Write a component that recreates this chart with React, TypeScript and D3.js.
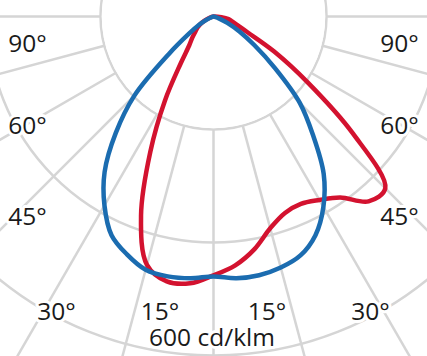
import React, { useRef, useEffect } from 'react';
import * as d3 from 'd3';

// angles in degrees from nadir (0 = straight down), 5° steps
const angles = [0, 5, 10, 15, 20, 25, 30, 35, 40, 45, 50, 55, 60, 65, 70, 75, 80, 85, 90];

// intensities in cd/klm, left half (towards 90° on the left) and right half
const blueLeft = [460, 465, 467, 464, 448, 427, 386, 336, 269, 198, 103, 53, 30, 14, 5, 0, 0, 0, 0];
const blueRight = [460, 465, 465, 460, 450, 427, 389, 340, 274, 216, 142, 88, 53, 27, 11, 4, 0, 0, 0];
const redLeft = [458, 474, 476, 455, 375, 265, 172, 101, 67, 53, 42, 35, 27, 18, 9, 4, 0, 0, 0];
const redRight = [458, 442, 418, 388, 370, 366, 375, 391, 427, 430, 322, 204, 124, 67, 45, 34, 27, 14, 0];

const gridValues = [200, 400, 600];
const spokeAngles = [-90, -75, -60, -45, -30, -15, 0, 15, 30, 45, 60, 75, 90];
const angleLabels = ['90°', '60°', '45°', '30°', '15°'];
const unitLabel = '600 cd/klm';

const WIDTH = 427;
const HEIGHT = 356;

function App() {
  const svgRef = useRef<SVGSVGElement | null>(null);

  useEffect(() => {
    const svg = d3.select(svgRef.current);
    svg.selectAll('*').remove();

    const cx = 213.5;
    const cy = 16.5;
    const rScale = d3.scaleLinear().domain([0, 600]).range([0, 339]);

    svg.append('rect').attr('width', WIDTH).attr('height', HEIGHT).attr('fill', '#fff');

    const g = svg.append('g').attr('transform', `translate(${cx},${cy})`);
    const gridColor = '#d5d5d5';

    // spokes, starting from the inner circle
    const toXY = (deg: number, r: number) => {
      const a = (deg * Math.PI) / 180;
      return [r * Math.sin(a), r * Math.cos(a)];
    };
    spokeAngles.forEach(deg => {
      const [x1, y1] = toXY(deg, rScale(200));
      const [x2, y2] = toXY(deg, rScale(900));
      g.append('line')
        .attr('x1', x1).attr('y1', y1)
        .attr('x2', x2).attr('y2', y2)
        .attr('stroke', gridColor)
        .attr('stroke-width', 2.5);
    });

    // circles
    gridValues.forEach(v => {
      g.append('circle')
        .attr('r', rScale(v))
        .attr('fill', 'none')
        .attr('stroke', gridColor)
        .attr('stroke-width', 2.5);
    });

    // white inside of inner circle
    g.append('circle').attr('r', rScale(200) - 1.3).attr('fill', '#fff');

    // build closed polar curves
    const buildPoints = (left: number[], right: number[]) => {
      const pts: [number, number][] = [];
      for (let i = angles.length - 1; i > 0; i--) pts.push([-angles[i], left[i]]);
      angles.forEach((a, i) => pts.push([a, right[i]]));
      const nonZero = pts.filter(p => p[1] > 0);
      return [[180, 0] as [number, number], ...nonZero];
    };

    const line = d3.lineRadial<[number, number]>()
      .angle(d => Math.PI - (d[0] * Math.PI) / 180)
      .radius(d => rScale(d[1]))
      .curve(d3.curveCatmullRomClosed.alpha(0.5));

    g.append('path')
      .attr('d', line(buildPoints(redLeft, redRight)))
      .attr('fill', 'none')
      .attr('stroke', '#d3122f')
      .attr('stroke-width', 4.5)
      .attr('stroke-linejoin', 'round');

    g.append('path')
      .attr('d', line(buildPoints(blueLeft, blueRight)))
      .attr('fill', 'none')
      .attr('stroke', '#1b6cb0')
      .attr('stroke-width', 4.5)
      .attr('stroke-linejoin', 'round');

    // angle labels (left x, baseline y), mirrored on the right
    const labelPos = [
      [27.5, 52],
      [27.5, 134],
      [27.5, 224.5],
      [56.5, 319.5],
      [160, 319.5],
    ];
    const textStyle = (sel: d3.Selection<SVGTextElement, unknown, null, undefined>) =>
      sel
        .attr('text-anchor', 'middle')
        .attr('font-family', '"Open Sans", "Noto Sans", sans-serif')
        .attr('font-size', 24.5)
        .attr('fill', '#1a1a1a')
        .attr('stroke', '#fff')
        .attr('stroke-width', 6)
        .attr('paint-order', 'stroke')
        .attr('stroke-linejoin', 'round');

    angleLabels.forEach((t, i) => {
      const [x, y] = labelPos[i];
      textStyle(svg.append('text').attr('x', x).attr('y', y).text(t));
      textStyle(svg.append('text').attr('x', 2 * cx - x).attr('y', y).text(t));
    });

    textStyle(svg.append('text').attr('x', 212).attr('y', 346).text(unitLabel));
  }, []);

  return (
    <svg
      ref={svgRef}
      width={WIDTH}
      height={HEIGHT}
      style={{ position: 'absolute', left: 0, top: 0, display: 'block' }}
    />
  );
}

export default App;
